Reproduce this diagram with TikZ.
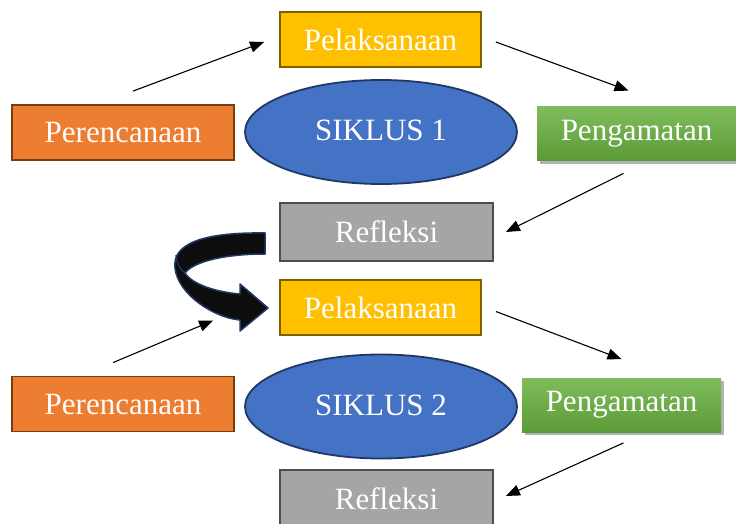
\documentclass[tikz,border=0pt]{standalone}
\usepackage{fontspec}
\setmainfont{Liberation Serif}
\usepackage{tikz}
\usetikzlibrary{arrows.meta,shapes.geometric,shadows}

\definecolor{orangebox}{HTML}{ED7D31}
\definecolor{orangeline}{HTML}{7A3D12}
\definecolor{yellowbox}{HTML}{FFC000}
\definecolor{yellowline}{HTML}{7F6000}
\definecolor{bluebox}{HTML}{4472C4}
\definecolor{blueline}{HTML}{1F3864}
\definecolor{greentop}{HTML}{80BC5C}
\definecolor{greenbot}{HTML}{5B9B36}
\definecolor{greybox}{HTML}{A5A5A5}
\definecolor{greyline}{HTML}{4D4D4D}

\begin{document}
\begin{tikzpicture}[x=1pt,y=-1pt,
  box/.style={rectangle, inner sep=0pt, line width=1.8pt, text=white,
    font=\fontsize{31}{36}\selectfont},
  plan/.style={box, fill=orangebox, draw=orangeline, minimum width=222pt, minimum height=55pt},
  act/.style={box, fill=yellowbox, draw=yellowline, minimum width=201pt, minimum height=55pt},
  obs/.style={box, top color=greentop, bottom color=greenbot, minimum width=199pt, minimum height=54pt,
    drop shadow={shadow xshift=3pt, shadow yshift=-3pt, fill=black!30, opacity=1}},
  refl/.style={box, fill=greybox, draw=greyline, minimum width=213pt, minimum height=58pt},
  cycle/.style={ellipse, inner sep=0pt, line width=1.8pt, fill=bluebox, draw=blueline, text=white,
    minimum width=272pt, minimum height=104pt, font=\fontsize{31}{36}\selectfont},
  arr/.style={line width=1.1pt, -{Triangle[length=14pt,width=11pt]}}]
  \useasboundingbox (0,0) rectangle (736,524);

  % siklus 1
  \node[act]   (pel1) at (380.5,39.5) {Pelaksanaan};
  \node[plan]  (ren1) at (123,132.5)  {Perencanaan};
  \node[cycle] (sik1) at (381,132)    {\raisebox{4pt}{SIKLUS 1}};
  \node[obs]   (pen1) at (636.5,133.5) {Pengamatan};
  \node[refl]  (ref1) at (386.5,232)  {Refleksi};

  % siklus 2
  \node[act]   (pel2) at (380.5,307.5) {Pelaksanaan};
  \node[plan]  (ren2) at (123,404)     {Perencanaan};
  \node[cycle] (sik2) at (381,406.5)   {\raisebox{3pt}{SIKLUS 2}};
  \node[obs]   (pen2) at (621.5,405)   {Pengamatan};
  \node[refl]  (ref2) at (386.5,499)   {Refleksi};

  \draw[arr] ([shift={(10,-13)}]ren1.north) -- ([shift={(-15,2.5)}]pel1.west);
  \draw[arr] ([shift={(14,2.5)}]pel1.east) -- ([shift={(-8,-15)}]pen1.north);
  \draw[arr] ([shift={(-13,12)}]pen1.south) -- ([shift={(12,0)}]ref1.east);

  \draw[arr] ([shift={(-10,-13)}]ren2.north) -- ([shift={(-66,13)}]pel2.west);
  \draw[arr] ([shift={(14,4)}]pel2.east) -- ([shift={(0,-18)}]pen2.north);
  \draw[arr] ([shift={(2,10)}]pen2.south) -- ([shift={(12,-3)}]ref2.east);

  % curved arrow from siklus 1 to siklus 2
  \filldraw[fill=black!95, draw=blueline, line width=1.5pt, line join=round]
    (265,233) .. controls (200,232) and (172,245) .. (175,268)
    .. controls (178,295) and (215,318) .. (240,320)
    -- (240,331) -- (268,308) -- (240,284) -- (240,294)
    .. controls (215,292) and (192,284) .. (185,273)
    .. controls (195,260) and (230,254) .. (265,254) -- cycle;
  \draw[blueline, line width=1.2pt] (185,273) .. controls (179,268) and (176,262) .. (176,255);
\end{tikzpicture}
\end{document}
